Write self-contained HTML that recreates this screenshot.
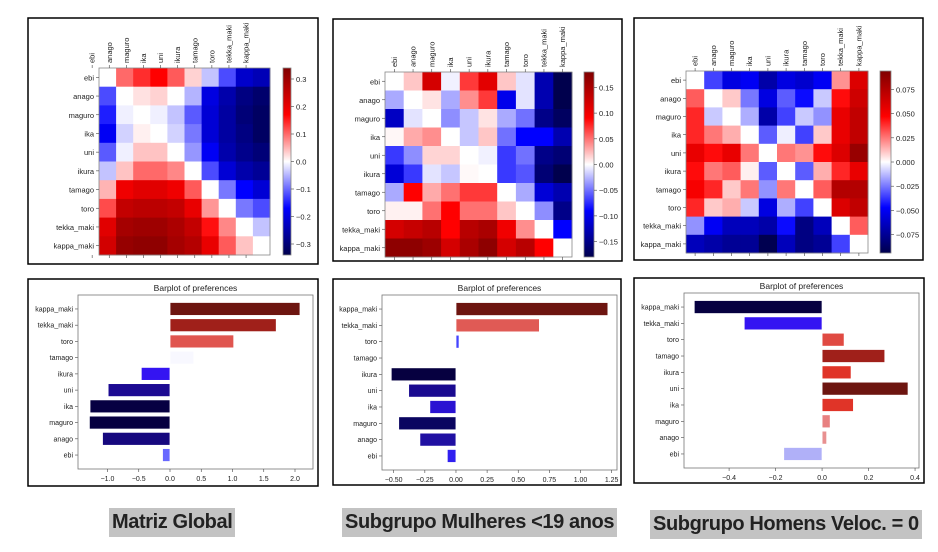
<!DOCTYPE html>
<html><head><meta charset="utf-8">
<style>
html,body{margin:0;padding:0;background:#fff;}
svg{display:block;font-family:"Liberation Sans",sans-serif;}
.cap{position:absolute;background:#c3c3c3;font-family:"Liberation Sans",sans-serif;font-weight:bold;font-size:20px;color:#222;height:29px;line-height:29px;padding:0 3px;letter-spacing:-0.4px;}
</style></head>
<body>
<div style="position:relative;width:938px;height:552px;overflow:hidden">
<svg id="fig" width="938" height="552" viewBox="0 0 938 552"></svg>
<div class="cap" style="left:109px;top:508px;">Matriz Global</div>
<div class="cap" style="left:342px;top:508px;">Subgrupo Mulheres &lt;19 anos</div>
<div class="cap" style="left:650px;top:510px;">Subgrupo Homens Veloc. = 0</div>
</div>
<script>
const categories = ["ebi","anago","maguro","ika","uni","ikura","tamago","toro","tekka_maki","kappa_maki"];

const heatGlobal = [
[0,.10,.14,.17,.11,.03,-.04,-.12,-.22,-.24],
[-.12,0,.02,.03,0,-.05,-.2,-.25,-.29,-.31],
[-.15,-.01,0,-.01,-.04,-.11,-.21,-.26,-.3,-.32],
[-.18,-.03,.01,0,-.03,-.09,-.21,-.26,-.29,-.32],
[-.11,-.01,.04,.04,0,-.07,-.18,-.25,-.28,-.3],
[-.04,.04,.10,.10,.08,0,-.12,-.21,-.25,-.27],
[.05,.19,.21,.21,.19,.11,0,-.09,-.17,-.21],
[.12,.25,.26,.26,.25,.2,.07,0,-.09,-.12],
[.21,.29,.3,.3,.28,.25,.16,.08,0,-.04],
[.23,.31,.32,.32,.29,.27,.2,.11,.04,0]];
const heatMulheres = [
[0,.02,.12,-.005,.07,.11,.02,-.01,-.13,-.18],
[-.03,0,.01,-.03,.04,.07,-.1,-.01,-.13,-.18],
[-.12,-.01,0,-.04,-.02,.01,-.03,-.05,-.15,-.17],
[.003,.03,.04,0,-.02,.02,-.05,-.09,-.09,-.13],
[-.07,-.04,.015,.015,0,-.005,-.07,-.05,-.15,-.16],
[-.11,-.07,-.01,-.02,.002,0,-.07,-.06,-.16,-.18],
[-.03,.09,.03,.05,.07,.07,0,-.03,-.11,-.13],
[.005,.005,.05,.09,.05,.05,.02,0,-.04,-.15],
[.12,.13,.14,.09,.14,.15,.1,.04,0,-.09],
[.17,.17,.16,.12,.15,.17,.12,.14,.09,0]];
const heatHomens = [
[0,-.035,-.055,-.05,-.07,-.055,-.06,-.05,.02,.06],
[.03,0,.01,-.025,-.055,-.03,-.045,-.01,.045,.065],
[.04,-.01,0,-.015,-.07,-.035,-.01,-.02,.055,.07],
[.04,.025,.015,0,-.03,-.003,-.035,.01,.055,.07],
[.055,.045,.055,.025,0,.025,.02,.045,.06,.085],
[.045,.025,.03,.003,-.03,0,-.03,.015,.04,.055],
[.05,.04,.01,.025,-.02,.025,0,.03,.075,.075],
[.04,.01,.015,-.01,-.055,-.015,-.035,0,.06,.07],
[-.02,-.05,-.065,-.065,-.07,-.045,-.08,-.065,0,.03],
[-.065,-.07,-.075,-.075,-.093,-.065,-.08,-.075,-.035,0]];

const cbTicksGlobal = [-0.3,-0.2,-0.1,0.0,0.1,0.2,0.3];
const cbLabelsGlobal = ["−0.3","−0.2","−0.1","0.0","0.1","0.2","0.3"];
const cbTicksMulheres = [-0.15,-0.10,-0.05,0,0.05,0.10,0.15];
const cbLabelsMulheres = ["−0.15","−0.10","−0.05","0.00","0.05","0.10","0.15"];
const cbTicksHomens = [-0.075,-0.05,-0.025,0,0.025,0.05,0.075];
const cbLabelsHomens = ["−0.075","−0.050","−0.025","0.000","0.025","0.050","0.075"];

const barValuesGlobal = [-0.12,-1.08,-1.29,-1.28,-0.99,-0.46,0.38,1.02,1.70,2.08];
const barValuesMulheres = [-0.07,-0.29,-0.46,-0.21,-0.38,-0.52,0.005,0.025,0.67,1.22];
const barValuesHomens = [-0.165,0.02,0.035,0.135,0.37,0.125,0.27,0.095,-0.335,-0.55];
const barColorsGlobal = ["#6868ff","#16087e","#060040","#060042","#1c0a92","#3414f2","#f8f8ff","#e0554f","#a0201a","#6d1510"];
const barColorsMulheres = ["#3020f0","#2010a2","#0a0560","#2a12d2","#1a0a90","#060040","#c8c8ff","#4444ff","#e05a55","#6d1510"];
const barColorsHomens = ["#b0b0f8","#e89090","#e88080","#e03428","#6d1510","#e03428","#a0201a","#e04a42","#3414f2","#060040"];
const barTicksGlobal = [-1.0,-0.5,0.0,0.5,1.0,1.5,2.0];
const barTickLabelsGlobal = ["−1.0","−0.5","0.0","0.5","1.0","1.5","2.0"];
const barTicksMulheres = [-0.5,-0.25,0,0.25,0.5,0.75,1.0,1.25];
const barTickLabelsMulheres = ["−0.50","−0.25","0.00","0.25","0.50","0.75","1.00","1.25"];
const barTicksHomens = [-0.4,-0.2,0,0.2,0.4];
const barTickLabelsHomens = ["−0.4","−0.2","0.0","0.2","0.4"];

const NS = "http://www.w3.org/2000/svg";
const svg = document.getElementById("fig");
function mk(tag, attrs, parent){ const e=document.createElementNS(NS,tag); for(const k in attrs) e.setAttribute(k,attrs[k]); (parent||svg).appendChild(e); return e; }
function seismic(t){ t=Math.max(0,Math.min(1,t));
  const s=[[0,0,0.3],[0,0,1],[1,1,1],[1,0,0],[0.5,0,0]];
  const p=t*4, i=Math.min(3,Math.floor(p)), f=p-i;
  const c=s[i].map((v,k)=>Math.round(255*(v+(s[i+1][k]-v)*f)));
  return "rgb("+c.join(",")+")"; }

function panel(x,y,w,h,name){ const r=mk("rect",{x:x,y:y,width:w,height:h,fill:"#fff",stroke:"#000","stroke-width":1.5});
  
   }

function heatmap(o){
  const g=mk("g",{});
  
  
  const n=categories.length, cw=(o.x1-o.x0)/n, ch=(o.y1-o.y0)/n;
  const col=v=>seismic((v+o.vmax)/(2*o.vmax));
  o.data.forEach((row,i)=>row.forEach((v,j)=>{
    const c=mk("rect",{x:o.x0+j*cw,y:o.y0+i*ch,width:cw+0.4,height:ch+0.4,fill:col(v)},g);
    
    
  }));
  mk("rect",{x:o.x0,y:o.y0,width:o.x1-o.x0,height:o.y1-o.y0,fill:"none",stroke:"#888","stroke-width":0.8},g);
  categories.forEach((c,i)=>{
    const cy=o.y0+(i+0.5)*ch;
    mk("line",{x1:o.x0-3,x2:o.x0,y1:cy,y2:cy,stroke:"#444","stroke-width":0.6},g);
    const t=mk("text",{x:o.x0-5,y:cy+3,"font-size":7.5,"text-anchor":"end",fill:"#222"},g); t.textContent=c;
    
    
    const cx=o.x0+(i+0.5)*cw+o.shift*cw;
    mk("line",{x1:cx,x2:cx,y1:o.y1,y2:o.y1+3,stroke:"#444","stroke-width":0.6},g);
    mk("line",{x1:cx,x2:cx,y1:o.y0-3,y2:o.y0,stroke:"#444","stroke-width":0.6},g);
    const tt=mk("text",{x:0,y:0,"font-size":7.5,fill:"#222",transform:`translate(${cx+2.5},${o.y0-5}) rotate(-90)`},g); tt.textContent=c;
    
    
  });
  const gid="grad"+o.name;
  const defs=mk("defs",{},g); const lg=mk("linearGradient",{id:gid,x1:0,y1:1,x2:0,y2:0},defs);
  for(let k=0;k<=20;k++) mk("stop",{offset:k/20,"stop-color":seismic(k/20)},lg);
  const cb=mk("rect",{x:o.cbx,y:o.y0,width:o.cbw,height:o.y1-o.y0,fill:`url(#${gid})`,stroke:"#888","stroke-width":0.8},g);
  
  
  const cy=v=>o.y1-(v+o.vmax)/(2*o.vmax)*(o.y1-o.y0);
  o.ticks.forEach((v,k)=>{ const yy=cy(v);
    mk("line",{x1:o.cbx+o.cbw,x2:o.cbx+o.cbw+3,y1:yy,y2:yy,stroke:"#444","stroke-width":0.6},g);
    const t=mk("text",{x:o.cbx+o.cbw+5,y:yy+3,"font-size":7.5,fill:"#222"},g); t.textContent=o.labels[k];
    
    
  });
}

function barplot(o){
  const g=mk("g",{});
  
  
  const xs=v=>o.ax0+(v-o.xmin)/(o.xmax-o.xmin)*(o.ax1-o.ax0);
  const ymin=-0.86, ymax=9.86;
  const ys=v=>o.ay1-(v-ymin)/(ymax-ymin)*(o.ay1-o.ay0);
  const t=mk("text",{x:(o.ax0+o.ax1)/2,y:o.ay0-4,"font-size":8.5,"text-anchor":"middle",fill:"#222"},g); t.textContent="Barplot of preferences";
  
  
  o.values.forEach((v,i)=>{
    const x0=xs(Math.min(0,v)), x1=xs(Math.max(0,v));
    const b=mk("rect",{x:x0,y:ys(i+0.4),width:Math.max(0.8,x1-x0),height:ys(i-0.4)-ys(i+0.4),fill:o.colors[i],stroke:"#fff","stroke-width":0.8},g);
    
    
    const cy=ys(i);
    mk("line",{x1:o.ax0-3,x2:o.ax0,y1:cy,y2:cy,stroke:"#444","stroke-width":0.6},g);
    const l=mk("text",{x:o.ax0-5,y:cy+2.5,"font-size":7,"text-anchor":"end",fill:"#222"},g); l.textContent=categories[i];
    
    
  });
  mk("rect",{x:o.ax0,y:o.ay0,width:o.ax1-o.ax0,height:o.ay1-o.ay0,fill:"none",stroke:"#777","stroke-width":0.8},g);
  o.ticks.forEach((v,k)=>{ const xx=xs(v);
    mk("line",{x1:xx,x2:xx,y1:o.ay1,y2:o.ay1+3,stroke:"#444","stroke-width":0.6},g);
    const l=mk("text",{x:xx,y:o.ay1+12,"font-size":7,"text-anchor":"middle",fill:"#222"},g); l.textContent=o.labels[k];
    
    
  });
}

panel(28,18,290,246,"panel-heatmap-global");
panel(333,19,289,242,"panel-heatmap-mulheres");
panel(634,18,289,242,"panel-heatmap-homens");
panel(28,279,290,207,"panel-bar-global");
panel(333,279,288,206,"panel-bar-mulheres");
panel(634,278,290,205,"panel-bar-homens");

heatmap({name:"heatmap-global",data:heatGlobal,x0:99,x1:270,y0:68,y1:255,vmax:0.34,shift:-0.9,cbx:283,cbw:8,ticks:cbTicksGlobal,labels:cbLabelsGlobal});
heatmap({name:"heatmap-mulheres",data:heatMulheres,x0:385,x1:572,y0:72,y1:257,vmax:0.18,shift:0,cbx:584,cbw:10,ticks:cbTicksMulheres,labels:cbLabelsMulheres});
heatmap({name:"heatmap-homens",data:heatHomens,x0:686,x1:868,y0:71,y1:253,vmax:0.094,shift:0,cbx:880,cbw:11,ticks:cbTicksHomens,labels:cbLabelsHomens});

barplot({name:"barplot-global",values:barValuesGlobal,colors:barColorsGlobal,ticks:barTicksGlobal,labels:barTickLabelsGlobal,ax0:78,ax1:313,ay0:295,ay1:469,xmin:-1.472,xmax:2.288});
barplot({name:"barplot-mulheres",values:barValuesMulheres,colors:barColorsMulheres,ticks:barTicksMulheres,labels:barTickLabelsMulheres,ax0:382,ax1:617,ay0:295,ay1:470,xmin:-0.594,xmax:1.293});
barplot({name:"barplot-homens",values:barValuesHomens,colors:barColorsHomens,ticks:barTicksHomens,labels:barTickLabelsHomens,ax0:684,ax1:919,ay0:293,ay1:468,xmin:-0.594,xmax:0.417});
</script>
</body></html>
